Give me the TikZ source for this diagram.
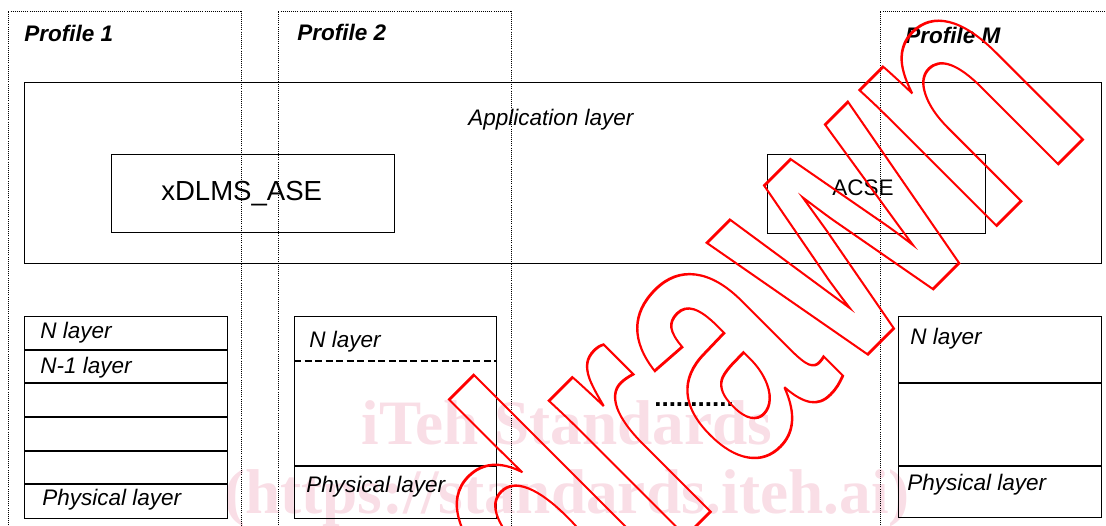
\documentclass[tikz,border=0pt]{standalone}
\usepackage{fontspec}
\setmainfont{Liberation Sans}
\newfontfamily\webfont{Liberation Serif}
\usepackage{tikz}
\usetikzlibrary{positioning}

\definecolor{wmpink}{RGB}{249,222,230}
\newcommand{\pxu}{0.025cm}
% hollow letters: stroke the glyph outlines only
\newcommand{\hollow}[1]{\special{pdf:literal direct 1 Tr 2 w}#1\special{pdf:literal direct 0 Tr}}

\tikzset{
    profile/.style={line width=0.6pt, dash pattern=on 0.6pt off 0.9pt},
    box/.style={draw, rectangle, line width=0.9pt, inner sep=0pt, anchor=north west},
    sep/.style={line width=1.3pt},
    lbl/.style={anchor=base west, inner sep=0pt, font=\itshape\fontsize{16}{19}\selectfont},
    ttl/.style={anchor=base west, inner sep=0pt, font=\bfseries\itshape\fontsize{16}{19}\selectfont},
    wm/.style={anchor=base, inner sep=0pt, text=wmpink, font=\webfont\bfseries\fontsize{45}{50}\selectfont},
}

\begin{document}
\begin{tikzpicture}[x=\pxu, y=-\pxu]
    \useasboundingbox (0,0) rectangle (1106,526);
    \clip (0,0) rectangle (1106,526);

    % background stamp text
    \node (web1) [wm] at (567,444) {iTeh Standards};
    \node (web2) [wm] at (567,513) {(https://standards.iteh.ai)};

    % profile frames
    \draw[profile] (8,540) |- (241,11) -- (241,540);
    \draw[profile] (278,540) |- (511,11) -- (511,540);
    \draw[profile] (880,540) |- (1120,11);
    \node (prof1) [ttl] at (24,42) {Profile 1};
    \node (prof2) [ttl] at (297,40) {Profile 2};
    \node (profM) [ttl] at (905,44) {Profile M};

    % application layer
    \node (app) [box, minimum width=1077*\pxu, minimum height=181*\pxu] at (24,82) {};
    \node (applbl) [lbl] at (468,125) {Application layer};
    \node (xdlms) [box, minimum width=283*\pxu, minimum height=78*\pxu] at (111,154) {};
    \node (xdlmslbl) [anchor=base west, inner sep=0pt, font=\fontsize{19.6}{22}\selectfont] at (161,200) {xDLMS\_ASE};
    \node (acse) [box, minimum width=218*\pxu, minimum height=79*\pxu] at (767,154) {};
    \node (acselbl) [anchor=base west, inner sep=0pt, font=\fontsize{16}{19}\selectfont] at (832,195) {ACSE};

    % layer stacks
    \node (stackA) [box, minimum width=203*\pxu, minimum height=202*\pxu] at (24,316) {};
    \foreach \y in {350,383,417,451,484}
        \draw[sep] (stackA.west |- 0,\y) -- (stackA.east |- 0,\y);
    \node (nA) [lbl] at (40,338) {N layer};
    \node (n1A) [lbl] at (40,373) {N-1 layer};
    \node (physA) [lbl] at (42,505) {Physical layer};

    \node (stackB) [box, minimum width=202*\pxu, minimum height=202*\pxu] at (294,316) {};
    \draw[line width=1pt, dash pattern=on 5pt off 2.5pt] (stackB.west |- 0,361) -- (stackB.east |- 0,361);
    \draw[sep] (stackB.west |- 0,466) -- (stackB.east |- 0,466);
    \node (nB) [lbl] at (309,347) {N layer};
    \node (physB) [lbl] at (306,492) {Physical layer};

    \node (dots) [anchor=base west, inner sep=0pt, font=\bfseries\fontsize{18.5}{20}\selectfont] at (654,406) {...........};

    \node (stackM) [box, minimum width=203*\pxu, minimum height=201*\pxu] at (898,316) {};
    \draw[sep] (stackM.west |- 0,383) -- (stackM.east |- 0,383);
    \draw[sep] (stackM.west |- 0,466) -- (stackM.east |- 0,466);
    \node (nM) [lbl] at (910,344) {N layer};
    \node (physM) [lbl] at (907,490) {Physical layer};

    % red stamp on top
    \node (stamp) [anchor=base east, inner sep=0pt, rotate=45, xscale=0.7, text=red,
        font=\bfseries\fontsize{259}{259}\selectfont] at (1094,128) {\hollow{drawn}};
\end{tikzpicture}
\end{document}
